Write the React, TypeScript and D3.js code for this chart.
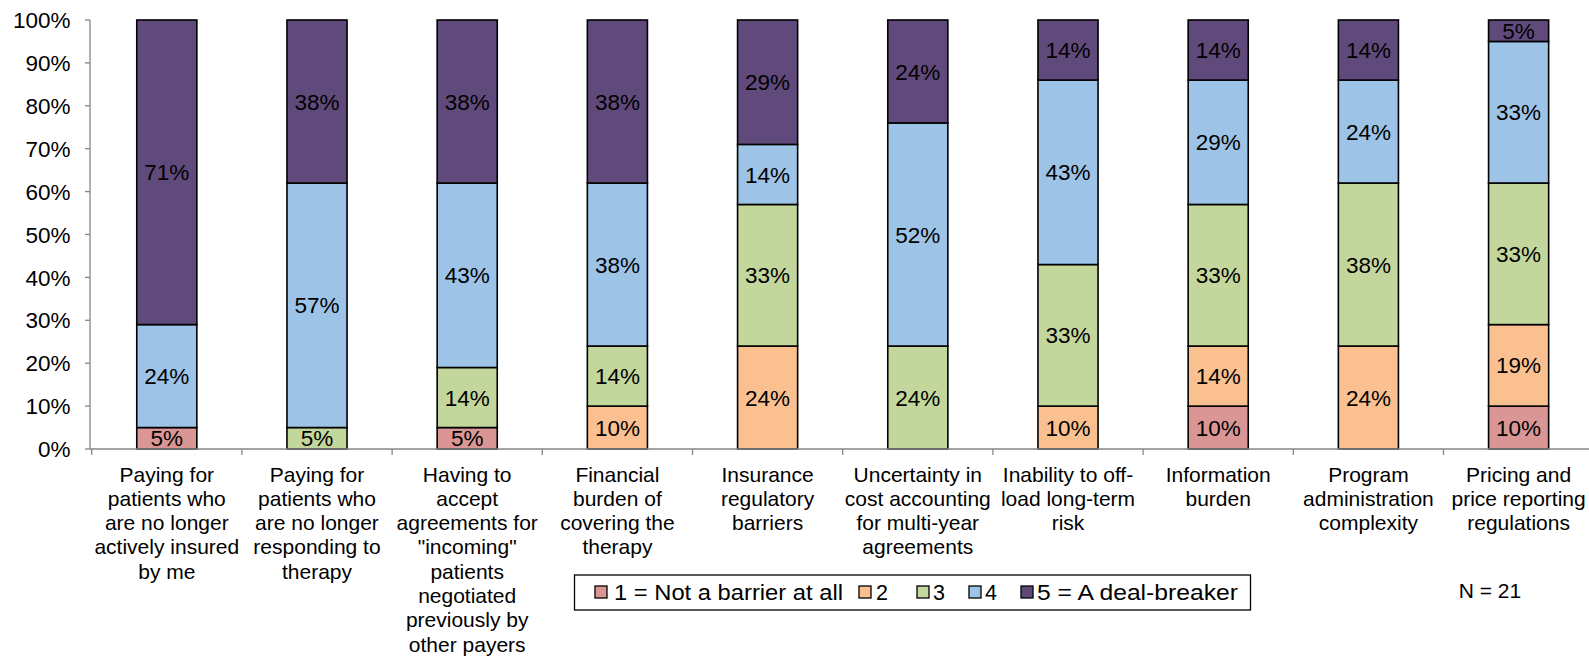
import React from "react";
import * as d3 from "d3";

// Survey responses (percent of N = 21), one array per rating level
const categories: string[][] = [
  ["Paying for", "patients who", "are no longer", "actively insured", "by me"],
  ["Paying for", "patients who", "are no longer", "responding to", "therapy"],
  ["Having to", "accept", "agreements for", "\"incoming\"", "patients", "negotiated", "previously by", "other payers"],
  ["Financial", "burden of", "covering the", "therapy"],
  ["Insurance", "regulatory", "barriers"],
  ["Uncertainty in", "cost accounting", "for multi-year", "agreements"],
  ["Inability to off-", "load long-term", "risk"],
  ["Information", "burden"],
  ["Program", "administration", "complexity"],
  ["Pricing and", "price reporting", "regulations"],
];

const notABarrier = [5, 0, 5, 0, 0, 0, 0, 10, 0, 10];
const level2 = [0, 0, 0, 10, 24, 0, 10, 14, 24, 19];
const level3 = [0, 5, 14, 14, 33, 24, 33, 33, 38, 33];
const level4 = [24, 57, 43, 38, 14, 52, 43, 29, 24, 33];
const dealBreaker = [71, 38, 38, 38, 29, 24, 14, 14, 14, 5];

const seriesKeys = ["s1", "s2", "s3", "s4", "s5"];
const seriesNames = ["1 = Not a barrier at all", "2", "3", "4", "5 = A deal-breaker"];
const seriesColors = ["#D99694", "#FAC090", "#C3D69B", "#9DC3E6", "#604A7B"];

const yTicks = [0, 10, 20, 30, 40, 50, 60, 70, 80, 90, 100];

const W = 1589;
const H = 656;
const FONT = "'Liberation Sans', Arial, sans-serif";
const NUM_SIZE = 22.5;

export default function App() {
  const rows = categories.map((_, i) => ({
    s1: notABarrier[i],
    s2: level2[i],
    s3: level3[i],
    s4: level4[i],
    s5: dealBreaker[i],
  }));
  const stacked = d3.stack<any>().keys(seriesKeys)(rows);

  const x = d3
    .scaleBand<number>()
    .domain(categories.map((_, i) => i))
    .range([91.7, 1593.7])
    .paddingInner(0.6)
    .paddingOuter(0.3);
  const step = x.step();
  const bandStart = 91.7;
  const y = d3.scaleLinear().domain([0, 100]).range([449, 20]);

  const axisColor = "#868686";

  // legend layout: marker x, text x, and stretched text width for the long entries
  const legendItems = [
    { marker: 595, text: 614, width: 229 },
    { marker: 859, text: 876, width: 0 },
    { marker: 917, text: 933, width: 0 },
    { marker: 969, text: 985, width: 0 },
    { marker: 1021, text: 1037, width: 201 },
  ];

  return (
    <svg
      width={W}
      height={H}
      style={{ position: "absolute", left: 0, top: 0, background: "#fff" }}
      fontFamily={FONT}
    >
      {/* bars */}
      {stacked.map((s, si) => (
        <g key={s.key}>
          {s.map((d, i) =>
            d[1] - d[0] > 0 ? (
              <rect
                key={i}
                x={x(i)!}
                y={y(d[1])}
                width={x.bandwidth()}
                height={y(d[0]) - y(d[1])}
                fill={seriesColors[si]}
                stroke="#000"
                strokeWidth={1.6}
              />
            ) : null
          )}
        </g>
      ))}

      {/* value labels */}
      {stacked.map((s) => (
        <g key={"l" + s.key}>
          {s.map((d, i) =>
            d[1] - d[0] > 0 ? (
              <text
                key={i}
                x={x(i)! + x.bandwidth() / 2}
                y={(y(d[0]) + y(d[1])) / 2}
                dy="0.36em"
                textAnchor="middle"
                fontSize={NUM_SIZE}
                fill="#000"
              >
                {`${d[1] - d[0]}%`}
              </text>
            ) : null
          )}
        </g>
      ))}

      {/* y axis */}
      <line x1={90} x2={90} y1={y(100)} y2={y(0)} stroke={axisColor} strokeWidth={1.3} />
      {yTicks.map((t) => (
        <g key={t}>
          <line x1={85} x2={90} y1={y(t)} y2={y(t)} stroke={axisColor} strokeWidth={1.3} />
          <text x={70.5} y={y(t)} dy="0.36em" textAnchor="end" fontSize={NUM_SIZE} fill="#000">
            {`${t}%`}
          </text>
        </g>
      ))}

      {/* x axis */}
      <line x1={90} x2={W} y1={y(0)} y2={y(0)} stroke={axisColor} strokeWidth={1.3} />
      {categories.map((_, i) => (
        <line
          key={i}
          x1={bandStart + i * step}
          x2={bandStart + i * step}
          y1={y(0)}
          y2={y(0) + 6}
          stroke={axisColor}
          strokeWidth={1.3}
        />
      ))}
      {categories.map((lines, i) => (
        <text
          key={i}
          x={x(i)! + x.bandwidth() / 2}
          y={481.5}
          textAnchor="middle"
          fontSize={21}
          fill="#000"
        >
          {lines.map((ln, li) => (
            <tspan key={li} x={x(i)! + x.bandwidth() / 2} dy={li === 0 ? 0 : 24.3}>
              {ln}
            </tspan>
          ))}
        </text>
      ))}

      {/* legend */}
      <rect x={574.5} y={575} width={676} height={35} fill="#fff" stroke="#000" strokeWidth={1.3} />
      {seriesNames.map((name, i) => (
        <g key={name}>
          <rect
            x={legendItems[i].marker}
            y={586}
            width={12}
            height={12}
            fill={seriesColors[i]}
            stroke="#000"
            strokeWidth={1.3}
          />
          <text
            x={legendItems[i].text}
            y={600}
            fontSize={21.5}
            fill="#000"
            {...(legendItems[i].width
              ? { textLength: legendItems[i].width, lengthAdjust: "spacingAndGlyphs" }
              : {})}
          >
            {name}
          </text>
        </g>
      ))}

      <text x={1490} y={598} textAnchor="middle" fontSize={21} fill="#000">
        N = 21
      </text>
    </svg>
  );
}
